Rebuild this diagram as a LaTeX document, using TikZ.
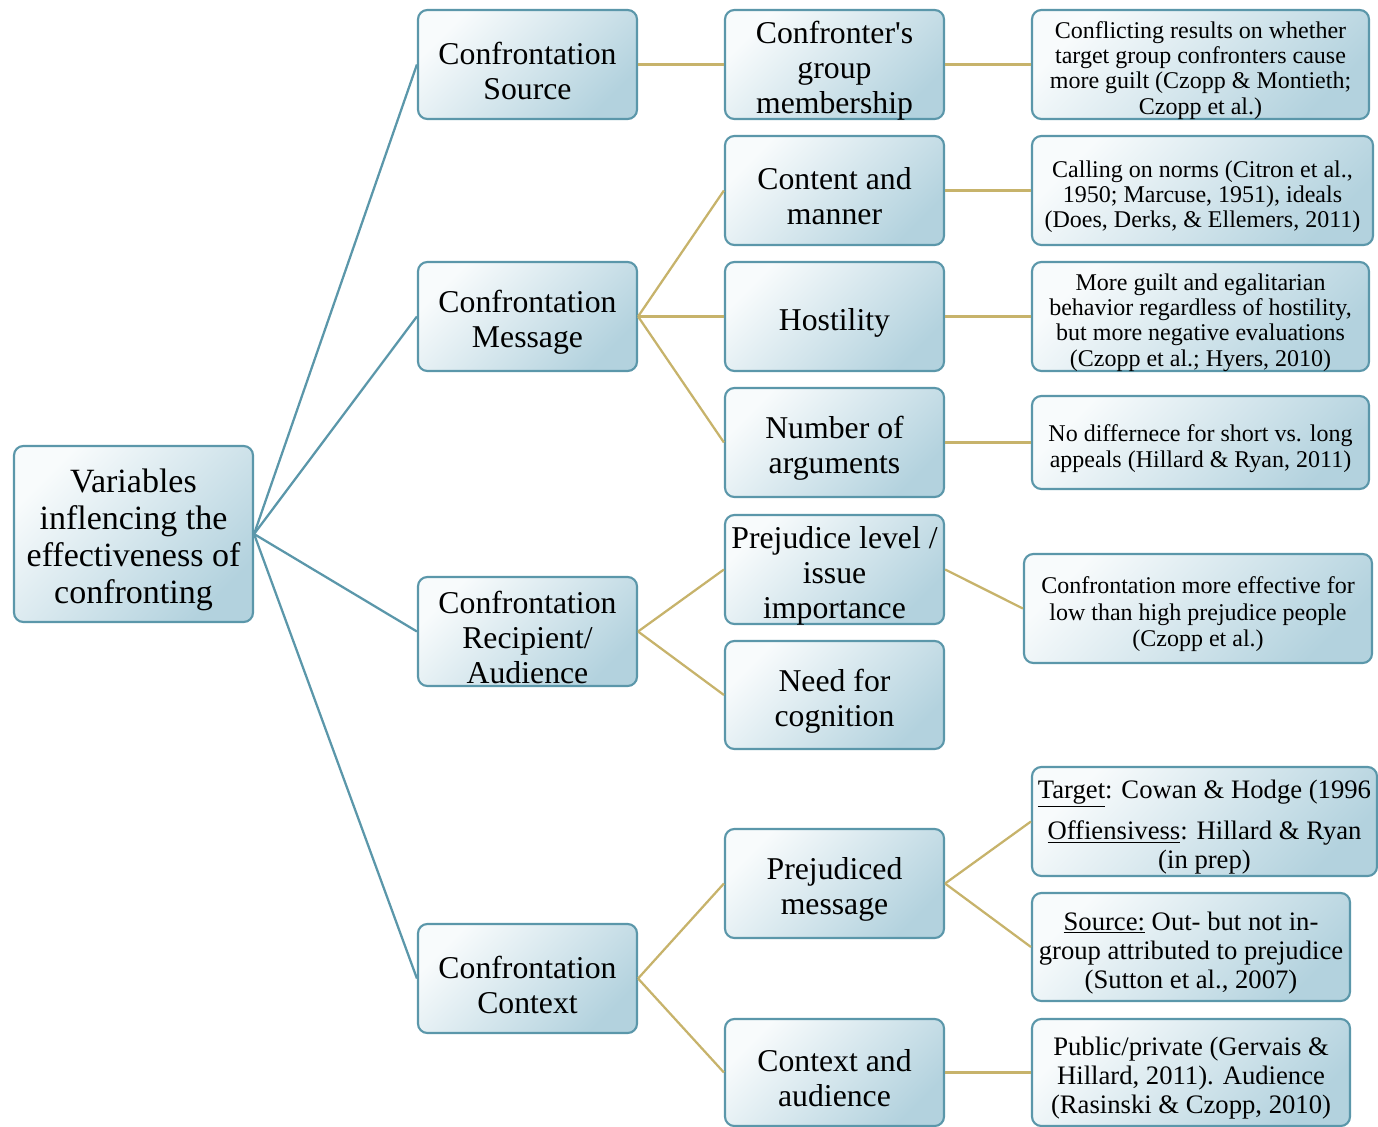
\documentclass[tikz,border=0pt]{standalone}
\usepackage{fontspec}
\setmainfont{Liberation Serif}
\definecolor{bordercol}{HTML}{5B97AA}
\definecolor{goldcol}{HTML}{C7B36B}
\definecolor{fillA}{HTML}{F8FBFC}
\definecolor{fillB}{HTML}{B3D2DE}
\tikzset{
  box/.style={draw=bordercol, line width=1.6pt, rounded corners=7pt,
    top color=fillA, bottom color=fillB, shading angle=45,
    inner sep=0pt},
  boxtext/.style={align=center, inner sep=0pt, text=black, yshift=-4.5pt},
  rootf/.style={font=\fontsize{25.5}{27.75}\selectfont},
  midf/.style={font=\fontsize{23.8}{26.25}\selectfont},
  smallf/.style={font=\fontsize{18}{18.9}\selectfont},
  smallg/.style={font=\fontsize{18}{19.8}\selectfont},
  medf/.style={font=\fontsize{20}{21.75}\selectfont},
  blueline/.style={draw=bordercol, line width=1.7pt},
  goldline/.style={draw=goldcol, line width=1.7pt},
}
\newcommand\mybox[7]{%
  \node[box,minimum width={(#4-#2)*0.75pt},minimum height={(#5-#3)*0.75pt}]
    (#1) at ({(#2+#4)/2},{(#3+#5)/2}) {};
  \node[boxtext,#6] (#1-t) at (#1.center) {#7};}
\begin{document}
\begin{tikzpicture}[x=0.75pt,y=-0.75pt]
\useasboundingbox (0,0) rectangle (1378,1127);
% root
\mybox{root}{14}{446}{253}{622}{rootf}{Variables\\inflencing the\\effectiveness of\\confronting}
% level 1
\mybox{src}{418}{10}{637}{119}{midf}{Confrontation\\Source}
\mybox{msg}{418}{262}{637}{371}{midf}{Confrontation\\Message}
\mybox{rec}{418}{577}{637}{686}{midf}{Confrontation\\Recipient/\\Audience}
\mybox{ctx}{418}{924}{637}{1033}{midf}{Confrontation\\Context}
% level 2
\mybox{a1}{725}{10}{944}{119}{midf}{Confronter\textquotesingle s\\group\\membership}
\mybox{a2}{725}{136}{944}{245}{midf}{Content and\\manner}
\mybox{a3}{725}{262}{944}{371}{midf}{Hostility}
\mybox{a4}{725}{388}{944}{497}{midf}{Number of\\arguments}
\mybox{a5}{725}{515}{944}{624}{midf}{Prejudice level /\\issue\\importance}
\mybox{a6}{725}{641}{944}{749}{midf}{Need for\\cognition}
\mybox{a7}{725}{829}{944}{938}{midf}{Prejudiced\\message}
\mybox{a8}{725}{1019}{944}{1126}{midf}{Context and\\audience}
% level 3
\mybox{b1}{1032}{10}{1369}{119}{smallf}{Conflicting results on whether\\target group confronters cause\\more guilt (Czopp \& Montieth;\\Czopp et al.)}
\mybox{b2}{1032}{136}{1373}{245}{smallf}{Calling on norms (Citron et al.,\\1950; Marcuse, 1951), ideals\\(Does, Derks, \& Ellemers, 2011)}
\mybox{b3}{1032}{262}{1369}{371}{smallf}{More guilt and egalitarian\\behavior regardless of hostility,\\but more negative evaluations\\(Czopp et al.; Hyers, 2010)}
\mybox{b4}{1032}{396}{1369}{489}{smallg}{No differnece for short vs. long\\appeals (Hillard \& Ryan, 2011)}
\mybox{b5}{1024}{554}{1372}{663}{smallg}{Confrontation more effective for\\low than high prejudice people\\(Czopp et al.)}
\mybox{b6}{1032}{767}{1377}{876}{medf}{\underline{Target}: Cowan \& Hodge (1996\\[9pt]\underline{Offiensivess}: Hillard \& Ryan\\(in prep)}
\mybox{b7}{1032}{893}{1350}{1001}{medf}{\underline{Source:} Out- but not in-\\group attributed to prejudice\\(Sutton et al., 2007)}
\mybox{b8}{1032}{1019}{1350}{1126}{medf}{Public/private (Gervais \&\\Hillard, 2011). Audience\\(Rasinski \& Czopp, 2010)}
% connectors
\foreach \t in {src,msg,rec,ctx} \draw[blueline] (root.east) -- (\t.west);
\draw[goldline] (src.east) -- (a1.west);
\foreach \t in {a2,a3,a4} \draw[goldline] (msg.east) -- (\t.west);
\foreach \t in {a5,a6} \draw[goldline] (rec.east) -- (\t.west);
\foreach \t in {a7,a8} \draw[goldline] (ctx.east) -- (\t.west);
\draw[goldline] (a1.east) -- (b1.west);
\draw[goldline] (a2.east) -- (b2.west);
\draw[goldline] (a3.east) -- (b3.west);
\draw[goldline] (a4.east) -- (b4.west);
\draw[goldline] (a5.east) -- (b5.west);
\draw[goldline] (a7.east) -- (b6.west);
\draw[goldline] (a7.east) -- (b7.west);
\draw[goldline] (a8.east) -- (b8.west);
\end{tikzpicture}
\end{document}
